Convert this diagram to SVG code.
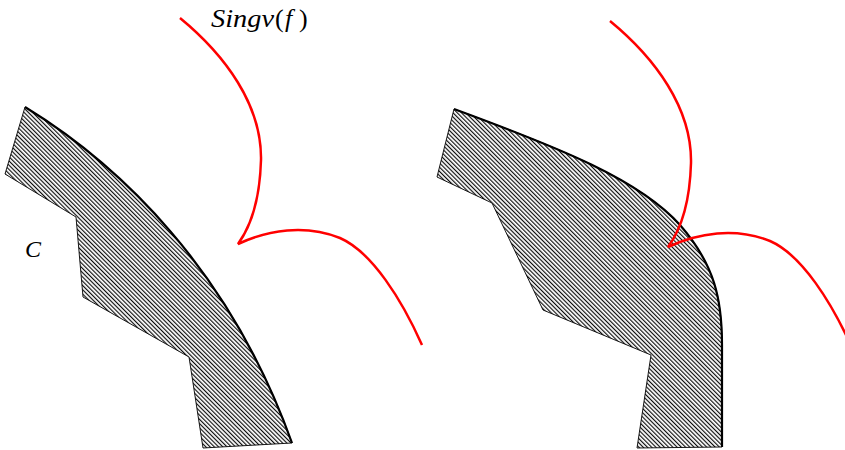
<svg xmlns="http://www.w3.org/2000/svg" width="845" height="450" viewBox="0 0 845 450">
<style>
.edge{fill:url(#hatch);stroke:#000;stroke-width:0.9;stroke-linejoin:miter}
.bound{fill:none;stroke:#000;stroke-width:2.2}
.sing{fill:none;stroke:#ff0000;stroke-width:2.5;stroke-linejoin:miter}
.lbl{font-family:"Liberation Serif",serif;font-style:italic;font-size:24px;fill:#000}
.big{font-size:26px}
.up{font-style:normal}
</style>
<defs>
<pattern id="hatch" patternUnits="userSpaceOnUse" width="3" height="3" patternTransform="rotate(-45)">
<rect width="3" height="3" fill="#fff"/>
<line x1="0.6" y1="0" x2="0.6" y2="3" stroke="#000" stroke-width="1.1"/>
</pattern>
</defs>
<g id="left-region">
<path class="edge" d="M25,107 C120,165 230,270 292,443 L203,448 L189,357 L83,297 L76,217 L5,174 Z"/>
<path class="bound" d="M25,107 C120,165 230,270 292,443"/>
</g>
<g id="right-region">
<path class="edge" d="M454,109 C560,148 640,180 680,225 C715,265 722,300 722,345 L722,447 L637,448 L651,355 L543,310 L492,203 L437,177 Z"/>
<path class="bound" d="M454,109 C560,148 640,180 680,225 C715,265 722,300 722,345 L722,447"/>
</g>
<g id="singv-left">
<path class="sing" d="M180,18 C225,55 262,105 261,160 C260,195 252,225 238,244 C268,230 305,224 340,238 C372,252 402,300 422,345"/>
</g>
<g id="singv-right">
<path class="sing" transform="translate(430,3)" d="M180,18 C225,55 262,105 261,160 C260,195 252,225 238,244 C268,230 305,224 340,238 C372,252 402,300 422,345"/>
</g>
<g id="labels">
<text class="lbl big" y="27"><tspan x="211" textLength="63" lengthAdjust="spacingAndGlyphs">Singv</tspan><tspan class="up" x="275">(</tspan><tspan x="285">f</tspan><tspan class="up" x="299">)</tspan></text>
<text class="lbl" x="25" y="257">C</text>
</g>
</svg>
